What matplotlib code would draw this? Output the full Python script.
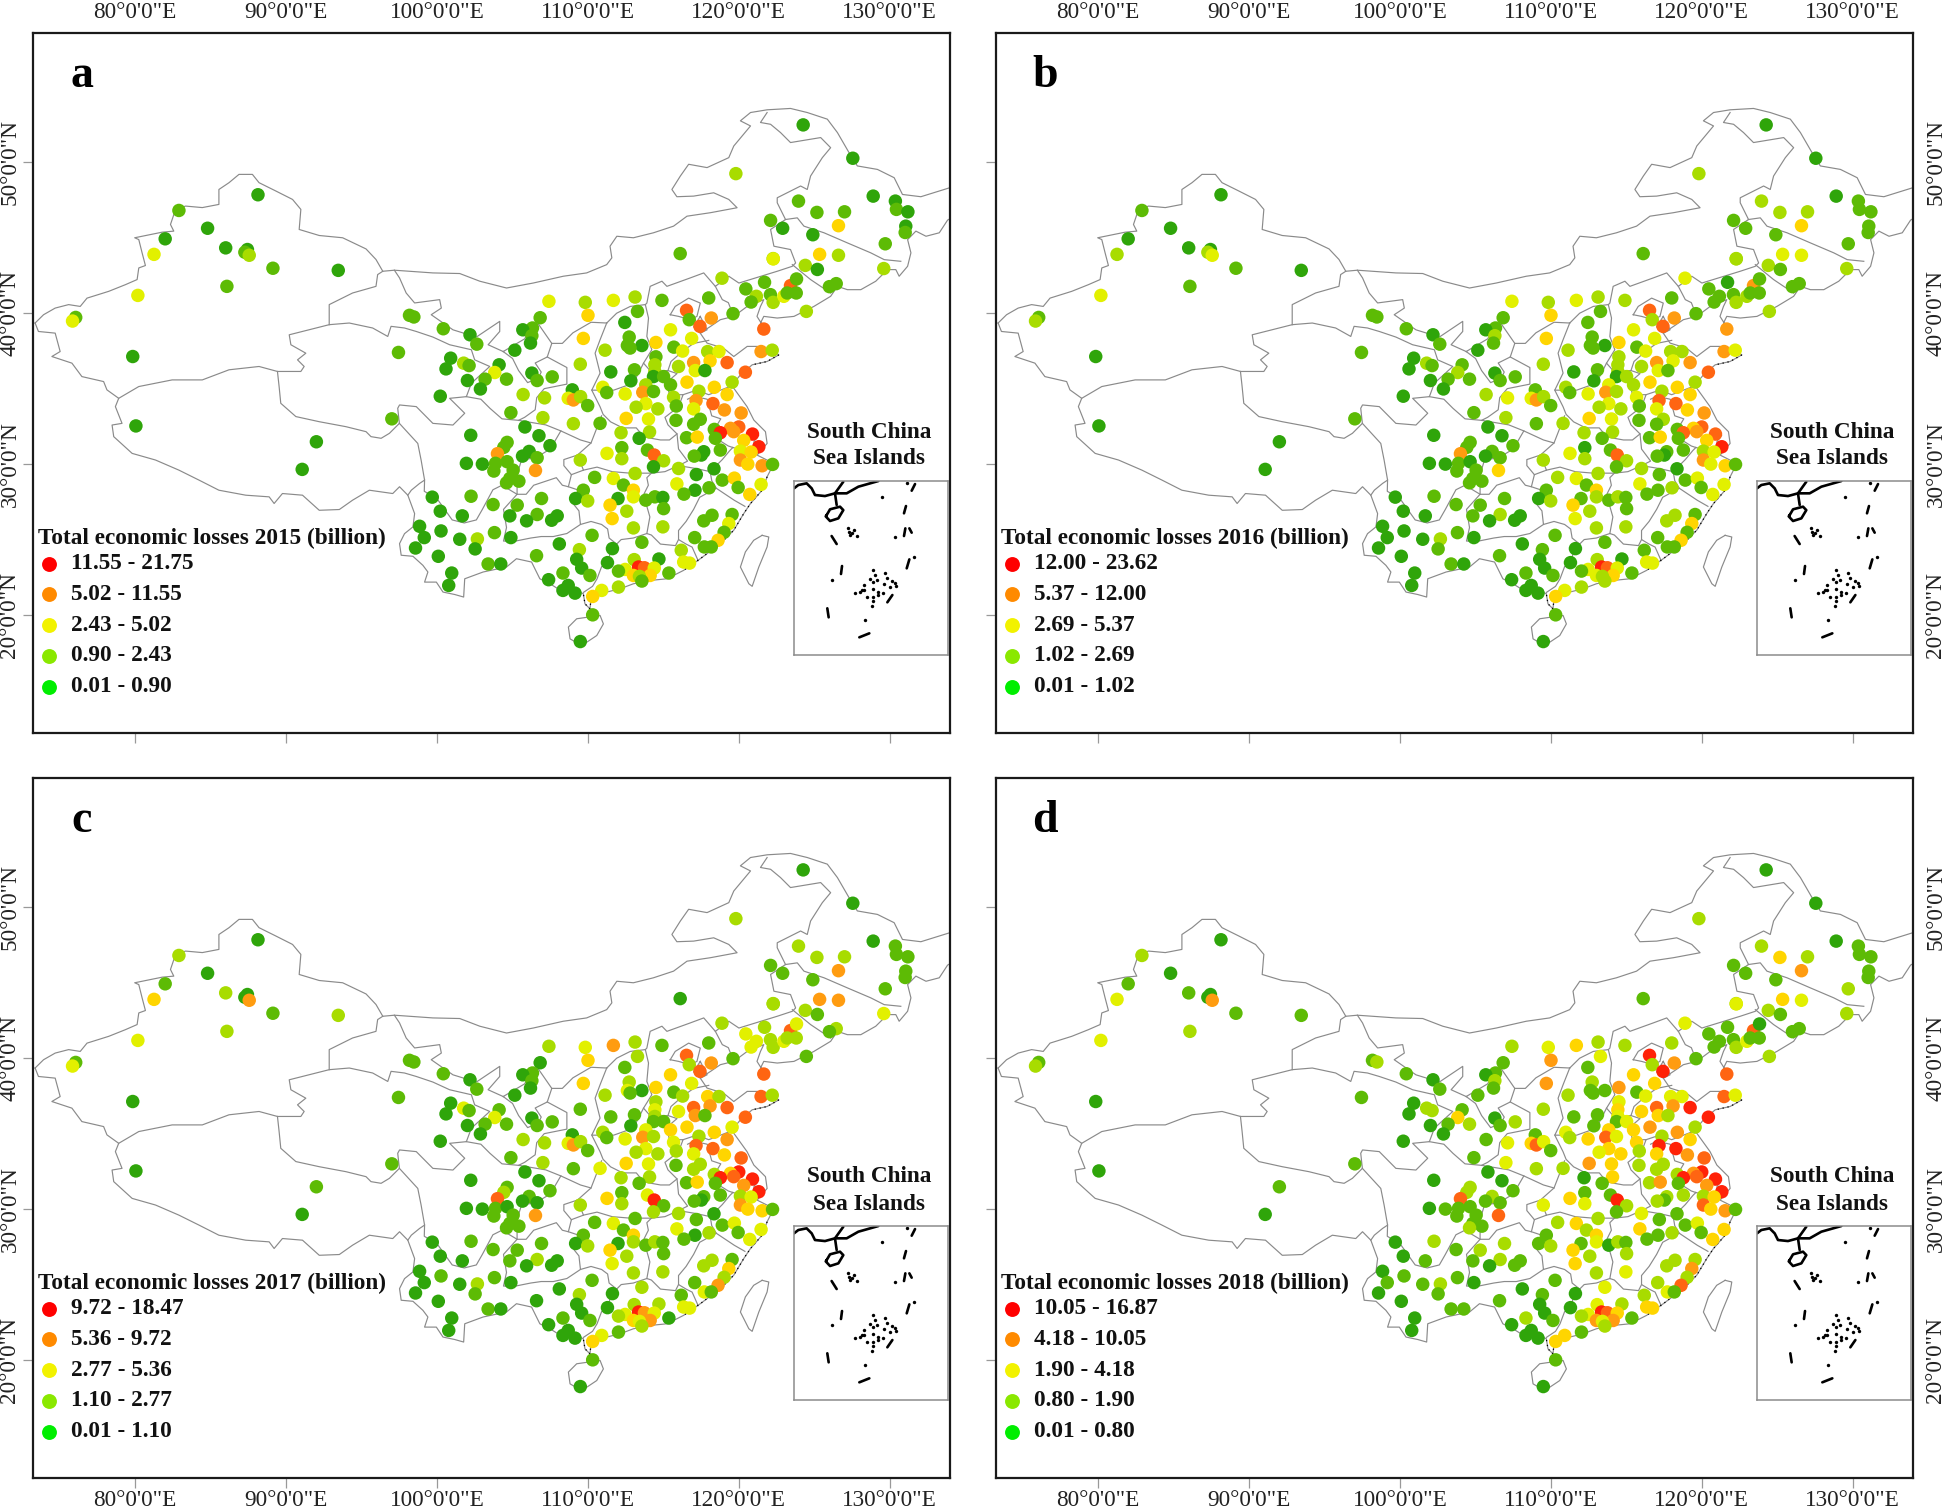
import matplotlib
matplotlib.use("Agg")
import matplotlib.pyplot as plt

plt.rcParams["font.family"] = ["Liberation Serif", "DejaVu Serif"]

# ============================================================
# Data
# ============================================================

panel_letters = ["a", "b", "c", "d"]
panel_years = [2015, 2016, 2017, 2018]
legend_ranges = [
    ["11.55 - 21.75", "5.02 - 11.55", "2.43 - 5.02", "0.90 - 2.43", "0.01 - 0.90"],
    ["12.00 - 23.62", "5.37 - 12.00", "2.69 - 5.37", "1.02 - 2.69", "0.01 - 1.02"],
    ["9.72 - 18.47", "5.36 - 9.72", "2.77 - 5.36", "1.10 - 2.77", "0.01 - 1.10"],
    ["10.05 - 16.87", "4.18 - 10.05", "1.90 - 4.18", "0.80 - 1.90", "0.01 - 0.80"],
]
legend_colors = ["#ff0000", "#ff8a00", "#f2f200", "#8ae800", "#00ee00"]
level_colors = ["#2fa50a", "#5dbb05", "#a8dc00", "#e2f000", "#ffd500", "#ff9c10", "#ff6512", "#ff2208"]

lon_ticks = [80, 90, 100, 110, 120, 130]
lat_ticks = [20, 30, 40, 50]

city_lon = [
    116.11, 122.27, 118.88, 123.42, 123.82, 121.70, 120.46, 121.16, 120.81, 122.09,
    122.27, 122.98, 123.20, 123.80, 107.41, 109.82, 111.68, 113.12, 114.90, 118.00,
    113.28, 116.53, 110.00, 98.17, 98.46, 106.83, 119.61, 118.17, 116.71, 112.44,
    106.32, 105.68, 100.41, 117.42, 121.65, 115.47, 102.18, 106.28, 102.63, 106.19,
    109.69, 112.73, 116.87, 114.50, 113.57, 112.61, 112.79, 115.69, 105.15, 97.44,
    111.13, 116.27, 117.93, 118.68, 121.47, 122.21, 114.50, 100.90, 100.59, 101.76,
    102.12, 104.11, 109.49, 117.00, 118.09, 119.22, 114.43, 116.00, 103.82, 113.08,
    114.43, 117.11, 117.75, 120.43, 106.28, 111.51, 114.34, 115.01, 112.84, 107.63,
    106.63, 103.18, 104.60, 102.01, 116.56, 119.55, 115.47, 113.83, 108.96, 110.98,
    111.24, 102.87, 118.37, 117.35, 119.22, 113.63, 114.34, 112.46, 105.70, 100.21,
    108.69, 109.03, 109.51, 107.12, 115.67, 117.16, 113.83, 115.85, 118.28, 113.19,
    114.63, 109.98, 117.00, 119.04, 104.89, 120.15, 107.01, 112.53, 114.01, 115.83,
    117.44, 117.00, 109.03, 110.80, 105.82, 119.99, 119.44, 119.66, 118.37, 118.77,
    120.90, 114.08, 112.19, 102.23, 106.75, 116.53, 117.24, 113.39, 118.44, 120.32,
    104.64, 107.48, 104.42, 121.32, 112.24, 113.94, 111.26, 118.77, 120.10, 120.81,
    104.00, 106.10, 105.66, 117.67, 117.51, 117.04, 114.39, 106.63, 112.24, 115.01,
    109.49, 120.10, 101.94, 103.00, 103.87, 104.64, 120.59, 121.54, 122.23, 114.34,
    106.52, 116.00, 103.76, 105.04, 118.35, 104.82, 105.42, 104.60, 113.12, 117.18,
    110.44, 111.68, 118.90, 119.70, 115.89, 112.35, 118.02, 119.95, 121.47, 117.09,
    109.69, 113.01, 116.36, 120.72, 102.25, 99.68, 109.18, 106.92, 109.98, 111.99,
    113.01, 113.83, 114.43, 114.96, 111.46, 105.31, 103.71, 100.21, 115.01, 112.57,
    104.82, 101.67, 106.63, 107.96, 107.59, 119.55, 118.22, 105.93, 117.67, 111.60,
    119.33, 98.84, 113.01, 114.96, 100.26, 119.02, 103.80, 110.27, 99.15, 102.67,
    101.50, 104.89, 117.07, 118.62, 113.57, 108.10, 117.71, 118.17, 98.57, 111.62,
    102.52, 109.43, 116.18, 100.08, 106.59, 109.25, 114.70, 113.06, 111.29, 116.34,
    116.73, 103.38, 104.22, 109.58, 113.35, 113.74, 114.39, 112.46, 112.02, 108.34,
    100.97, 110.13, 115.36, 113.01, 114.12, 113.41, 107.39, 113.57, 100.77, 108.69,
    108.34, 109.14, 112.02, 110.91, 110.31, 110.31, 109.49,
    # northeast
    124.26, 127.55, 119.80, 128.90, 130.37, 130.44, 131.20, 131.06, 131.02, 123.95,
    125.17, 127.00, 126.60, 122.10, 122.90, 124.90, 129.70, 129.60, 122.28, 125.35,
    126.60, 124.40, 125.20, 126.45, 126.00, 124.47,
    # west
    88.13, 82.89, 84.79, 81.98, 81.24, 85.99, 87.43, 87.26, 87.55, 89.12,
    93.45, 86.07, 80.17, 76.05, 75.84, 79.83, 80.04, 92.00, 91.06, 97.00,
]
city_lat = [
    43.95, 43.62, 42.32, 41.83, 42.27, 42.05, 41.61, 41.12, 40.74, 41.23,
    40.72, 41.12, 41.34, 41.34, 40.79, 40.72, 40.85, 41.07, 40.85, 41.01,
    40.12, 40.19, 39.86, 39.86, 39.75, 39.70, 39.97, 39.68, 39.57, 39.39,
    39.02, 38.90, 38.97, 39.13, 38.95, 38.90, 38.57, 38.51, 37.95, 38.02,
    38.33, 38.42, 38.33, 38.06, 37.86, 37.86, 37.69, 37.75, 37.55, 37.40,
    37.55, 37.49, 37.46, 37.46, 37.46, 37.55, 37.11, 37.02, 36.31, 36.69,
    36.53, 36.58, 36.62, 36.73, 36.84, 36.73, 36.58, 36.47, 36.07, 36.25,
    36.14, 36.20, 36.20, 36.09, 36.03, 36.11, 35.80, 35.80, 35.52, 35.78,
    35.54, 35.63, 35.63, 35.54, 35.43, 35.43, 35.25, 35.25, 34.92, 35.09,
    34.74, 34.98, 35.09, 34.83, 34.61, 34.76, 34.81, 34.65, 34.61, 34.50,
    34.36, 34.25, 34.47, 34.39, 34.43, 34.21, 34.01, 33.85, 34.01, 33.77,
    33.66, 33.88, 33.66, 33.59, 33.41, 33.39, 33.08, 33.03, 32.99, 32.90,
    32.97, 32.64, 32.68, 32.70, 32.46, 32.46, 32.37, 32.15, 32.30, 32.08,
    31.99, 32.13, 32.08, 31.91, 31.88, 31.75, 31.79, 31.71, 31.71, 31.57,
    31.44, 31.22, 31.11, 31.15, 31.09, 30.93, 30.71, 30.93, 30.86, 30.80,
    30.69, 30.84, 30.53, 30.82, 30.60, 30.53, 30.60, 30.42, 30.36, 30.22,
    30.27, 30.27, 30.05, 30.00, 30.05, 30.16, 30.00, 29.89, 29.98, 29.82,
    29.58, 29.71, 29.54, 29.60, 29.69, 29.05, 28.87, 28.76, 29.38, 29.31,
    29.12, 29.05, 28.94, 29.07, 28.69, 28.61, 28.43, 28.45, 28.65, 28.27,
    28.27, 28.27, 28.01, 27.99, 27.87, 27.81, 27.72, 27.72, 27.56, 27.72,
    27.83, 27.61, 27.83, 27.79, 27.28, 27.28, 27.32, 26.88, 27.05, 26.88,
    26.57, 26.57, 26.66, 26.57, 26.28, 26.66, 26.61, 26.24, 26.24, 26.39,
    26.06, 25.88, 25.77, 25.84, 25.57, 25.48, 25.46, 25.28, 25.13, 25.04,
    25.02, 25.13, 25.13, 24.95, 24.82, 24.71, 24.51, 24.51, 24.44, 24.40,
    24.38, 24.33, 24.29, 23.89, 23.93, 23.69, 23.71, 23.67, 23.47, 23.51,
    23.44, 23.38, 23.38, 23.11, 23.18, 23.13, 23.11, 23.02, 22.91, 22.78,
    22.78, 22.62, 22.78, 22.62, 22.62, 22.56, 22.34, 22.25, 21.96, 21.96,
    21.63, 21.45, 21.85, 21.63, 21.23, 20.01, 18.24,
    # northeast
    52.48, 50.27, 49.25, 47.76, 47.43, 46.88, 46.72, 45.77, 45.35, 47.43,
    46.68, 46.72, 45.80, 46.15, 45.63, 45.20, 44.60, 42.96, 43.60, 43.90,
    43.84, 43.17, 42.90, 41.96, 41.76, 40.12,
    # west
    47.85, 46.81, 45.63, 44.93, 43.90, 44.33, 44.22, 44.04, 43.84, 42.98,
    42.84, 41.78, 41.18, 39.72, 39.48, 37.13, 32.53, 31.48, 29.65, 33.00,
]

# colour level of every city, one string per year, same order as city_lon
levels_2015 = (
    "1226111211" "2311323211" "1641111510" "1016630110" "4134011101" "2323521002"
    "1025462231" "2306000101" "1110421203" "1042451320" "3522253162" "2135152431"
    "1121065517" "7220014014" "1017113134" "5000016122" "2500114510" "5211011120"
    "1314311130" "1414100120" "3110411012" "0010011014" "3022011102" "0014101100"
    "0220100203" "3100763311" "0114420100" "0023410"
    "0020010011" "1141001234" "220112"
    "0100300121" "0131300001"
)
levels_2016 = (
    "1235101111" "2211323221" "1641111521" "1016530211" "4134011101" "2322532002"
    "1125352221" "2316000201" "1110422312" "1042452320" "3523363162" "2134152431"
    "2112064516" "6220014114" "1117013123" "5101016122" "2500103411" "4211011121"
    "2313312131" "1413100121" "2121411012" "1020012023" "4022011102" "0014101100"
    "1110100203" "3100763311" "0113420200" "0023410"
    "0020111112" "2241111223" "321112"
    "0100200231" "0131200001"
)
levels_2017 = (
    "0226323332" "2322235211" "2641101521" "1016640110" "4234031101" "2242622003"
    "1116563331" "2516011101" "1110434302" "1042552320" "3522363262" "2134162431"
    "2213074627" "7220014115" "1127134123" "6101017021" "2500104412" "5211011111"
    "1313312130" "1413100120" "2121411012" "1020012023" "4022121102" "0015203100"
    "1210002203" "3100753321" "0104530200" "0013410"
    "0020111112" "2251111325" "521211"
    "0201420051" "2231300101"
)
levels_2018 = (
    "1236011111" "2311234222" "3751211521" "1017640211" "5245111111" "2333633002"
    "2126574441" "3427011312" "1120524413" "2052463410" "4633474273" "4145163542"
    "2222075627" "7400025115" "2127114224" "6212127132" "3601114511" "6311111221"
    "2413422141" "1414201221" "3021421022" "1121122024" "5023121112" "1026303100"
    "1120102304" "4110764322" "0115530200" "0014410"
    "0020111112" "4251112234" "321112"
    "0201310051" "1231200101"
)
panel_levels = [levels_2015, levels_2016, levels_2017, levels_2018]

# country outline, lon/lat
outline = [
    (73.36, 39.35), (73.92, 39.90), (74.69, 40.34), (75.58, 40.57), (76.35, 40.45), (76.80, 41.00),
    (78.24, 41.45), (79.34, 41.89), (80.12, 42.23), (80.23, 43.00), (80.67, 43.16), (80.45, 44.00),
    (80.23, 44.88), (79.96, 45.00), (81.78, 45.37), (82.55, 45.44), (82.33, 45.88), (82.67, 46.88),
    (83.33, 47.10), (84.44, 47.00), (85.54, 47.21), (85.54, 48.20), (86.21, 48.65), (86.87, 49.20),
    (87.76, 49.20), (88.20, 48.65), (89.31, 48.10), (90.42, 47.54), (90.97, 46.88), (90.86, 45.55),
    (92.19, 45.15), (93.74, 45.00), (95.29, 44.26), (95.95, 43.56), (96.40, 42.78), (97.17, 42.85),
    (99.72, 42.67), (101.50, 42.63), (102.83, 42.12), (104.60, 41.67), (106.37, 42.00), (108.36, 42.45),
    (109.91, 42.67), (111.24, 43.22), (111.58, 43.67), (111.46, 44.44), (111.91, 45.10), (113.01, 45.00),
    (114.34, 45.33), (115.67, 45.77), (116.56, 46.43), (118.11, 46.66), (119.88, 46.99), (119.33, 47.54),
    (118.33, 47.98), (117.00, 47.76), (115.89, 47.72), (115.56, 48.20), (116.12, 49.09), (116.67, 49.87),
    (117.89, 49.65), (119.33, 50.31), (119.66, 51.08), (120.77, 52.41), (120.10, 52.75), (120.77, 53.30),
    (121.87, 53.48), (123.42, 53.57), (124.53, 53.30), (125.86, 52.86), (126.53, 51.97), (127.30, 50.64),
    (127.85, 49.76), (129.18, 49.53), (130.29, 48.98), (130.84, 47.87), (132.06, 47.72), (133.83, 48.27),
    (134.28, 48.42), (134.60, 47.50), (134.28, 46.43), (133.83, 46.17), (133.28, 45.33), (132.40, 45.10),
    (131.73, 45.44), (131.18, 44.88), (131.40, 44.00), (131.18, 43.11), (130.62, 42.45), (130.40, 42.89),
    (129.85, 42.89), (129.07, 42.12), (128.08, 41.56), (127.19, 41.56), (126.53, 41.78), (126.08, 41.12),
    (124.97, 40.45), (123.65, 39.79), (122.54, 39.68), (121.65, 39.79), (121.43, 39.35), (121.76, 38.90),
    (121.20, 39.79), (121.43, 40.45), (121.65, 40.90), (120.55, 40.45), (119.66, 39.79), (118.77, 39.57),
    (118.11, 39.12), (117.44, 38.68), (117.89, 38.02), (118.99, 37.68), (119.66, 37.13), (120.55, 37.80),
    (121.20, 37.80), (122.32, 37.46), (122.65, 37.24), (121.87, 36.80), (120.88, 36.58), (120.10, 35.91),
    (119.55, 35.25), (119.66, 35.03), (120.54, 33.81), (120.99, 32.92), (121.76, 32.15), (121.87, 31.37),
    (121.20, 30.60), (122.32, 30.04), (121.87, 29.16), (121.54, 28.27), (120.77, 27.39), (120.32, 26.72),
    (119.66, 25.62), (118.77, 24.73), (117.44, 23.73), (116.34, 22.96), (115.23, 22.40), (114.12, 22.29),
    (113.01, 22.07), (112.13, 21.74), (110.80, 21.41), (110.24, 21.41), (110.13, 20.41), (109.80, 20.74),
    (109.69, 21.41), (109.14, 21.63), (108.36, 21.52), (107.48, 22.07), (106.81, 22.40), (106.59, 22.85),
    (106.26, 23.51), (105.26, 23.73), (104.60, 23.18), (103.05, 22.85), (101.83, 22.40), (101.76, 21.19),
    (101.16, 21.36), (100.39, 21.52), (99.95, 22.18), (99.17, 22.18), (99.39, 22.85), (99.06, 23.29),
    (98.40, 23.89), (97.62, 23.96), (97.51, 24.73), (97.84, 25.39), (98.40, 25.84), (98.51, 26.72),
    (98.06, 27.94), (97.51, 28.50), (97.06, 28.05), (95.51, 28.27), (94.40, 27.61), (93.52, 26.99),
    (92.19, 26.94), (91.08, 27.94), (89.75, 28.05), (89.20, 27.39), (88.87, 27.83), (87.32, 27.94),
    (85.54, 28.27), (84.22, 28.94), (82.89, 29.60), (81.34, 30.27), (79.79, 30.71), (78.57, 31.82),
    (78.46, 32.59), (79.12, 32.70), (78.68, 33.81), (78.90, 34.36), (78.12, 34.92), (77.90, 35.47),
    (76.46, 35.80), (75.80, 36.69), (74.47, 37.13), (75.02, 37.46), (74.69, 38.68), (73.58, 38.79),
    (73.36, 39.35),
]
hainan = [(110.02, 19.86), (110.80, 19.97), (111.02, 19.41), (110.58, 18.64), (109.58, 17.97),
          (108.81, 18.42), (108.70, 19.20), (109.25, 19.75), (110.02, 19.86)]
taiwan = [(121.54, 25.28), (121.98, 25.17), (121.87, 24.51), (121.32, 23.18), (120.88, 21.90),
          (120.66, 22.07), (120.10, 23.18), (120.43, 24.18), (120.98, 24.95), (121.54, 25.28)]

# bits of coast that look nearly black in the original
dark_coast = [
    [(122.65, 37.24), (121.87, 36.80), (120.88, 36.58)],
    [(121.87, 29.16), (121.54, 28.27), (120.77, 27.39), (120.32, 26.72), (119.66, 25.62), (118.77, 24.73), (117.44, 23.73), (116.34, 22.96)],
    [(110.24, 21.41), (110.13, 20.41), (109.80, 20.74), (109.69, 21.41), (109.14, 21.63)],
]

# province borders
province_lines = [
    [(78.90, 34.36), (80.23, 35.14), (82.44, 35.58), (84.44, 35.58), (86.21, 36.25), (88.20, 36.47), (89.42, 36.14),
     (90.97, 36.14), (91.19, 36.47), (90.75, 36.91), (91.30, 37.35), (90.31, 37.91), (90.20, 38.57), (92.85, 39.24),
     (94.18, 39.35), (95.73, 39.02), (96.73, 38.46), (96.95, 39.13), (97.84, 39.02), (98.62, 38.79), (99.72, 38.42),
     (100.83, 37.91), (102.27, 37.58), (102.49, 36.91), (103.49, 36.47), (102.27, 35.36), (101.94, 34.47),
     (100.83, 34.36), (101.83, 33.37), (101.05, 32.59), (99.72, 32.70), (98.62, 33.81), (97.51, 33.92), (97.39, 33.70), (97.50, 32.70)],
    [(92.85, 39.24), (92.85, 40.57), (94.40, 41.34), (95.95, 41.78), (96.06, 42.56), (96.40, 42.78)],
    [(97.17, 42.85), (97.51, 42.34), (97.95, 41.34), (98.51, 40.68), (100.17, 40.90), (100.28, 40.34), (99.61, 39.90),
     (101.05, 38.90), (102.60, 38.42), (104.15, 39.46), (104.15, 38.79), (103.38, 37.91), (104.38, 37.46)],
    [(89.42, 36.14), (89.53, 35.14), (89.64, 34.03), (90.64, 33.15), (92.19, 32.81), (93.96, 32.48), (95.29, 32.15),
     (95.62, 31.82), (96.29, 31.71), (96.84, 32.04), (97.50, 32.70), (98.72, 31.37), (98.94, 30.27), (99.17, 28.94), (98.84, 28.72), (98.29, 28.27), (98.06, 27.94)],
    # Ningxia
    [(104.38, 37.46), (105.80, 38.30), (106.30, 39.20), (106.70, 39.30), (107.60, 38.00), (107.30, 37.10), (106.50, 36.70),
     (106.90, 36.10), (106.70, 35.70), (106.00, 35.40), (105.40, 36.20), (105.00, 37.00), (104.38, 37.46)],
    # Sichuan, Gansu, Shaanxi
    [(101.94, 34.47), (102.90, 34.30), (103.50, 33.70), (104.30, 33.00), (105.40, 32.90), (106.00, 32.80), (107.20, 32.60), (108.20, 32.20), (109.50, 31.60), (110.20, 31.40)],
    [(105.40, 32.90), (105.80, 33.10), (106.50, 33.60), (106.60, 34.40), (107.10, 35.00), (108.60, 35.30), (108.60, 36.40), (107.30, 37.10)],
    # Inner Mongolia south side
    [(107.60, 38.00), (108.30, 38.00), (109.00, 38.70), (110.20, 39.40), (111.24, 39.35)],
    [(111.24, 39.35), (111.90, 40.00), (112.80, 40.45), (113.80, 40.57), (113.90, 40.67), (114.12, 41.78), (114.90, 42.12), (115.23, 41.78),
     (116.78, 42.34), (117.67, 42.67), (118.44, 41.78), (119.33, 42.45), (120.00, 42.00), (122.54, 42.78), (123.54, 43.11), (123.76, 43.33),
     (123.42, 44.22), (122.32, 44.44), (122.10, 45.55), (123.09, 46.21), (122.54, 47.32), (122.54, 47.65), (124.09, 48.43), (124.53, 48.20),
     (124.75, 49.09), (125.53, 50.31), (126.08, 50.97), (125.42, 51.64), (123.42, 51.31), (122.76, 51.97), (122.10, 52.52), (121.43, 52.64), (121.87, 53.30)],
    # Heilongjiang, Jilin, Liaoning
    [(123.09, 46.21), (123.87, 46.32), (124.31, 45.77), (125.64, 45.33), (127.19, 44.66), (128.74, 44.00), (129.63, 43.55), (130.73, 43.44)],
    [(123.54, 43.22), (124.75, 42.23), (125.42, 41.78), (126.08, 41.34)],
    # Hebei, Beijing, Tianjin
    [(118.44, 41.78), (118.90, 40.90), (119.30, 40.70), (119.66, 39.79)],
    [(115.45, 39.90), (115.78, 40.45), (116.67, 41.00), (117.44, 40.67), (117.22, 39.79), (116.78, 39.57), (116.00, 39.79), (115.45, 39.90)],
    [(117.44, 39.79), (117.89, 38.90), (117.44, 38.68), (117.00, 39.10), (117.44, 39.79)],
    # Shanxi
    [(113.80, 40.57), (114.01, 39.68), (113.90, 38.46), (114.23, 37.58), (113.68, 36.69), (113.00, 35.36), (111.70, 34.90), (110.25, 34.90),
     (110.80, 36.03), (110.47, 37.35), (110.80, 38.24), (111.24, 39.35)],
    # Henan
    [(110.25, 34.90), (110.40, 34.60), (110.80, 33.80), (111.00, 33.30), (111.50, 32.80), (112.30, 32.40), (113.20, 32.40), (113.70, 31.80),
     (114.80, 31.60), (115.40, 31.60), (115.90, 32.00), (115.30, 32.60), (115.10, 33.10), (116.00, 33.80), (116.30, 34.60), (115.40, 34.60),
     (115.20, 35.40), (115.90, 36.00), (115.30, 36.20), (114.20, 36.10), (113.68, 36.69)],
    # Shandong, Hebei
    [(118.00, 38.20), (117.00, 38.00), (116.30, 37.50), (115.50, 36.80), (115.30, 36.20)],
    [(119.30, 35.10), (118.00, 34.60), (117.20, 34.90), (116.30, 34.60)],
    # Jiangsu, Anhui
    [(116.60, 34.30), (117.00, 34.50), (117.90, 34.30), (118.20, 33.20), (118.80, 33.00), (118.50, 32.50), (119.10, 32.30), (118.50, 31.70), (119.30, 31.20), (119.60, 31.10)],
    [(119.60, 31.10), (120.40, 30.90), (121.00, 31.00), (121.30, 30.70)],
    [(121.00, 31.00), (121.00, 31.50), (121.30, 31.90)],
    [(115.90, 32.00), (116.00, 31.00), (116.60, 30.20), (116.00, 29.90), (117.20, 29.70), (118.10, 29.50), (118.90, 30.30), (119.40, 30.90), (119.60, 31.10)],
    # Zhejiang, Fujian, Jiangxi
    [(118.10, 29.50), (118.20, 28.90), (118.50, 28.40), (118.80, 28.20), (119.70, 27.60), (120.40, 27.20)],
    [(118.50, 28.40), (117.40, 27.80), (117.00, 27.00), (116.50, 26.20), (116.00, 25.60), (116.00, 25.00), (116.50, 24.70), (116.90, 24.50), (117.30, 23.60)],
    # Guangdong, Hunan, Guangxi
    [(116.00, 25.00), (115.80, 24.60), (114.80, 24.70), (114.20, 25.30), (113.90, 25.40), (113.00, 25.10), (112.20, 25.00), (111.90, 24.70),
     (111.50, 24.70), (111.40, 23.60), (110.90, 23.20), (110.60, 22.40), (110.30, 21.90), (109.70, 21.50)],
    [(113.90, 25.40), (114.10, 26.50), (113.90, 27.20), (113.60, 27.80), (114.00, 28.60), (113.90, 29.10), (114.20, 29.40), (115.10, 29.50), (116.00, 29.90)],
    [(109.70, 29.60), (110.60, 29.80), (111.60, 29.50), (112.80, 29.40), (114.20, 29.40)],
    [(108.70, 28.50), (109.30, 28.30), (109.40, 27.90), (109.00, 27.40), (109.40, 26.90), (109.50, 26.00), (110.20, 26.20), (110.90, 26.00), (111.30, 25.70), (111.40, 25.10), (111.90, 24.70)],
    # Guizhou, Yunnan, Sichuan
    [(99.17, 28.94), (99.15, 28.20), (100.00, 27.70), (100.50, 27.00), (101.00, 26.30), (101.80, 26.10), (102.60, 26.30), (103.00, 27.00),
     (103.70, 28.30), (104.30, 28.60), (105.30, 28.00), (104.40, 27.00), (104.60, 25.80), (104.40, 24.90), (105.20, 24.90), (106.20, 25.10),
     (106.90, 25.20), (107.70, 25.20), (108.60, 25.40), (109.50, 26.00)],
    [(105.30, 28.00), (105.90, 28.00), (106.40, 28.60), (107.00, 28.80), (107.90, 29.10), (108.30, 28.60), (108.70, 28.50), (108.90, 29.30),
     (108.40, 29.90), (108.40, 30.30), (109.30, 30.60), (110.20, 31.40), (110.90, 33.20)],
    [(105.30, 28.00), (105.30, 29.30), (105.60, 30.30), (106.50, 30.40), (107.50, 31.00), (108.20, 32.20)],
    [(108.90, 29.30), (109.70, 29.60), (109.30, 30.60)],
]

# inset, lon/lat
inset_mainland = [
    [(104.7, 22.34), (105.24, 22.76), (106.28, 22.97), (106.91, 22.34), (107.32, 21.51), (108.57, 21.38), (109.82, 21.72), (110.86, 23.17)],
    [(109.82, 21.72), (111.28, 21.72), (112.74, 22.55), (115.24, 23.26)],
    [(109.82, 21.72), (110.03, 20.26)],
    [(108.78, 19.0), (109.2, 19.72), (110.45, 20.05), (110.86, 19.62), (110.24, 18.59), (109.2, 18.26), (108.66, 18.84), (108.78, 19.0)],
]
inset_dashes = [
    [(119.4, 22.05), (119.82, 22.88)], [(118.44, 19.22), (118.69, 20.13)], [(118.44, 16.38), (118.61, 17.34)],
    [(119.11, 17.34), (119.4, 16.8)], [(118.78, 12.34), (119.11, 13.46)], [(116.36, 8.09), (116.99, 9.0)],
    [(108.86, 7.34), (109.03, 6.21)], [(110.57, 11.63), (110.7, 12.63)], [(109.4, 16.38), (110.03, 15.38)],
    [(112.86, 3.71), (114.11, 4.21)],
]
island_lon = [118.78, 117.36, 115.74, 119.73, 109.4, 114.4, 113.57, 111.49, 111.9, 111.7, 112.2, 112.6, 111.6,
              114.61, 114.82, 114.2, 115.03, 114.61, 116.11, 116.28, 116.9, 117.32, 115.95, 116.7, 117.4, 113.45,
              113.15, 112.32, 112.95, 114.61, 115.24, 113.86, 114.61, 114.53, 115.24, 115.86, 113.45]
island_lat = [23.05, 16.26, 21.22, 13.8, 10.84, 7.59, 5.88, 17.34, 16.71, 16.5, 17.13, 16.38, 16.9,
              12.13, 11.5, 10.96, 10.88, 10.67, 11.71, 11.09, 10.8, 10.46, 10.38, 10.05, 10.13, 10.25,
              9.63, 9.21, 9.42, 9.71, 9.42, 8.71, 8.8, 8.3, 9.0, 9.3, 9.63]

# ============================================================
# Graphs
# ============================================================

FIG_W, FIG_H = 1946, 1510
PANEL_W, PANEL_H = 917, 700
TEXT_PT = 16.75


def panel_frac(x, y):
    # pixels from the panel's top left corner -> axes fraction
    return x / PANEL_W, 1 - y / PANEL_H


def plot_inset(ax):
    x0, y1 = panel_frac(761, 447.7)
    x1, y0 = panel_frac(914.7, 622)
    inset = ax.inset_axes([x0, y0, x1 - x0, y1 - y0])
    inset.set_xlim(104.7, 123.9)
    inset.set_ylim(1.5, 23.3)
    inset.set_xticks([])
    inset.set_yticks([])
    for spine in inset.spines.values():
        spine.set_color("#8c8c8c")
        spine.set_linewidth(1.1)
    for line in inset_mainland:
        inset.plot(*zip(*line), color="black", lw=1.9, solid_capstyle="round")
    for line in inset_dashes:
        inset.plot(*zip(*line), color="black", lw=1.9, solid_capstyle="round")
    inset.scatter(island_lon, island_lat, s=6, color="black", linewidths=0)


def plot_panel(fig, idx):
    left = 33 if idx % 2 == 0 else 996
    top = 33 if idx < 2 else 778
    ax = fig.add_axes([left / FIG_W, 1 - (top + PANEL_H) / FIG_H, PANEL_W / FIG_W, PANEL_H / FIG_H])
    ax.set_xlim(73.22, 133.99)
    ax.set_ylim(12.18, 58.57)

    for line in [outline, hainan, taiwan] + province_lines:
        ax.plot(*zip(*line), color="#8a8a8a", lw=0.85, zorder=1)
    for line in dark_coast:
        ax.plot(*zip(*line), color="black", lw=0.9, ls=(0, (1, 3)), zorder=1)

    levels = panel_levels[idx]
    colors = [level_colors[int(c)] for c in levels]
    ax.scatter(city_lon, city_lat, s=94, c=colors, linewidths=0, zorder=2)

    # ticks and labels
    ax.set_xticks(lon_ticks)
    ax.set_xticklabels([f"{v}°0'0\"E" for v in lon_ticks])
    ax.set_yticks(lat_ticks)
    ax.set_yticklabels([f"{v}°0'0\"N" for v in lat_ticks], rotation=90, va="center")
    ax.tick_params(
        top=False, right=False, length=7, width=0.9, color="#999999", pad=2,
        labelsize=TEXT_PT, labelcolor="#222222",
        labeltop=idx < 2, labelbottom=idx >= 2,
        labelleft=idx % 2 == 0, labelright=idx % 2 == 1,
    )
    if idx < 2:
        ax.tick_params(axis="x", pad=0)
    for spine in ax.spines.values():
        spine.set_linewidth(1.6)
        spine.set_color("#1a1a1a")

    # panel letter
    ax.text(*panel_frac(49, 43), panel_letters[idx], transform=ax.transAxes, fontsize=33,
            fontweight="bold", ha="center", va="center", color="black")

    # legend
    ax.text(*panel_frac(5, 505), f"Total economic losses {panel_years[idx]} (billion)", transform=ax.transAxes,
            fontsize=TEXT_PT, fontweight="bold", ha="left", va="center", color="#111111")
    for row, (label, color) in enumerate(zip(legend_ranges[idx], legend_colors)):
        y = 530.5 + row * 30.8
        fx, fy = panel_frac(16, y)
        ax.scatter([fx], [fy], s=115, color=color, linewidths=0, transform=ax.transAxes, zorder=3)
        ax.text(*panel_frac(38, y), label, transform=ax.transAxes, fontsize=TEXT_PT, fontweight="bold",
                ha="left", va="center", color="#111111")

    # inset title
    ax.text(*panel_frac(836, 399), "South China", transform=ax.transAxes, fontsize=TEXT_PT,
            fontweight="bold", ha="center", va="center", color="#111111")
    ax.text(*panel_frac(836, 426), "Sea Islands", transform=ax.transAxes, fontsize=TEXT_PT,
            fontweight="bold", ha="center", va="center", color="#111111")
    plot_inset(ax)


# ============================================================
# Execution
# ============================================================

if __name__ == "__main__":
    assert len(city_lon) == len(city_lat)
    for lv in panel_levels:
        assert len(lv) == len(city_lon), len(lv)
    fig = plt.figure(figsize=(FIG_W / 100, FIG_H / 100), dpi=100)
    for i in range(4):
        plot_panel(fig, i)
    fig.savefig("out.png", dpi=100)
